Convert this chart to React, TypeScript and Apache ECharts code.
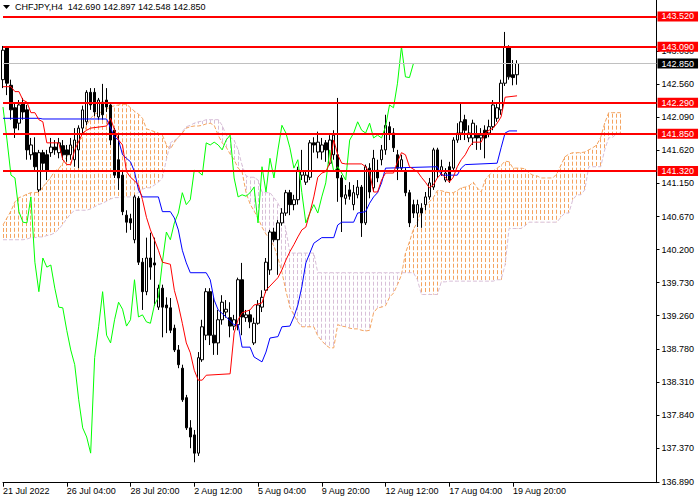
import React, { useEffect, useRef } from 'react';
import * as echarts from 'echarts';

const symbolTitle = 'CHFJPY,H4';
const headerValues = ['142.690', '142.897', '142.548', '142.850'];

// [open, close, low, high] per H4 bar
const ohlc: number[][] = [
  [142.62, 143.04, 142.50, 143.10], [143.07, 142.57, 142.40, 143.10], [142.54, 142.19, 142.05, 142.62],
  [142.22, 141.93, 141.79, 142.29], [142.00, 142.26, 141.90, 142.33], [142.29, 142.16, 142.05, 142.36],
  [142.19, 141.62, 141.48, 142.26], [141.55, 141.69, 141.48, 141.79], [141.58, 141.38, 141.33, 141.80],
  [141.05, 141.58, 141.02, 141.62], [141.58, 141.43, 141.33, 141.62], [141.55, 141.33, 141.19, 141.62],
  [141.58, 141.66, 141.52, 141.79], [141.66, 141.62, 141.55, 141.76], [141.58, 141.72, 141.50, 141.79],
  [141.68, 141.55, 141.48, 141.76], [141.62, 141.55, 141.45, 141.69], [141.55, 141.69, 141.48, 141.79],
  [141.48, 141.76, 141.38, 141.93], [141.62, 141.93, 141.36, 141.97], [141.93, 142.19, 141.86, 142.25],
  [142.02, 142.44, 141.97, 142.47], [142.44, 142.26, 142.19, 142.50], [142.44, 142.16, 142.10, 142.50],
  [142.09, 142.33, 142.05, 142.36], [142.30, 142.12, 142.05, 142.56], [142.33, 142.23, 142.16, 142.50],
  [142.26, 141.76, 141.69, 142.29], [141.90, 141.26, 141.22, 141.93], [141.48, 141.22, 141.05, 141.83],
  [141.26, 140.74, 140.69, 141.31], [140.69, 140.59, 140.44, 140.76], [140.64, 140.58, 140.48, 140.71],
  [140.34, 140.95, 140.29, 140.98], [140.93, 140.02, 139.98, 140.96], [140.02, 139.60, 139.34, 140.08],
  [139.60, 140.08, 139.55, 140.37], [140.08, 139.95, 139.77, 140.44], [140.01, 139.98, 139.40, 140.37],
  [139.38, 139.65, 139.34, 139.70], [139.65, 139.38, 138.95, 139.70], [139.41, 139.37, 139.01, 139.52],
  [139.37, 139.05, 139.01, 139.51], [139.08, 138.77, 138.74, 139.13], [138.77, 138.56, 138.51, 138.84],
  [138.51, 138.06, 138.03, 138.56], [138.09, 137.66, 137.63, 138.13], [137.66, 137.53, 137.37, 137.77],
  [137.56, 137.30, 137.17, 137.63], [137.30, 138.66, 137.26, 138.74], [138.63, 139.10, 138.60, 139.20],
  [138.98, 139.60, 138.91, 139.65], [139.60, 138.98, 138.84, 139.65], [138.98, 138.87, 138.70, 139.52],
  [138.87, 139.20, 138.70, 139.34], [139.20, 139.45, 139.13, 139.55], [139.31, 139.35, 139.23, 139.48],
  [139.23, 139.11, 138.95, 139.45], [139.11, 139.20, 139.05, 139.27], [139.13, 139.77, 139.05, 139.80],
  [139.77, 139.24, 138.98, 140.01], [139.23, 139.27, 139.17, 139.34], [139.27, 139.17, 139.08, 139.34],
  [138.87, 139.15, 138.84, 139.23], [139.15, 139.41, 139.13, 139.48], [139.38, 139.52, 139.31, 139.62],
  [139.62, 140.02, 139.58, 140.08], [139.91, 140.45, 139.84, 140.48], [140.45, 140.34, 140.31, 140.51],
  [140.34, 140.58, 139.84, 140.62], [140.58, 140.72, 140.54, 140.79], [140.72, 141.01, 140.68, 141.05],
  [141.01, 140.84, 140.69, 141.05], [140.84, 140.91, 140.76, 140.98], [140.91, 141.33, 140.84, 141.38],
  [141.26, 141.31, 141.19, 141.62], [141.16, 141.26, 141.12, 141.33], [141.23, 141.72, 141.19, 141.76],
  [141.72, 141.69, 141.58, 141.80], [141.59, 141.73, 141.50, 141.88], [141.59, 141.69, 141.48, 141.79],
  [141.72, 141.62, 141.45, 141.76], [141.43, 141.76, 141.40, 141.83], [141.55, 141.83, 141.48, 141.90],
  [141.55, 141.22, 140.88, 142.36], [141.22, 140.95, 140.45, 141.26], [140.93, 140.98, 140.84, 141.12],
  [141.05, 140.96, 140.91, 141.16], [140.84, 141.01, 140.76, 141.12], [140.98, 141.09, 140.93, 141.19],
  [141.09, 140.58, 140.38, 141.12], [140.58, 141.38, 140.55, 141.41], [141.36, 141.02, 140.93, 141.43],
  [141.08, 141.50, 141.02, 141.62], [141.33, 141.22, 141.16, 141.48], [141.48, 141.62, 141.40, 141.69],
  [141.62, 141.97, 141.55, 142.12], [141.95, 141.86, 141.76, 142.02], [141.86, 141.65, 141.59, 141.93],
  [141.55, 141.36, 141.19, 141.62], [141.36, 141.48, 141.31, 141.55], [141.31, 141.01, 140.96, 141.36],
  [141.01, 140.58, 140.52, 141.05], [140.84, 140.72, 140.65, 140.91], [140.72, 140.84, 140.52, 140.91],
  [140.79, 140.72, 140.51, 140.86], [140.84, 140.95, 140.76, 141.02], [140.95, 141.15, 140.91, 141.22],
  [141.09, 141.62, 141.05, 141.65], [141.62, 141.31, 141.22, 141.65], [141.31, 141.38, 141.25, 141.48],
  [141.19, 141.29, 141.16, 141.36], [141.38, 141.19, 141.15, 141.45], [141.36, 141.76, 141.31, 141.80],
  [141.76, 141.86, 141.72, 142.00], [141.86, 142.02, 141.76, 142.30], [142.05, 141.90, 141.76, 142.12],
  [141.79, 141.86, 141.73, 141.97], [141.79, 142.00, 141.69, 142.05], [141.83, 141.79, 141.62, 141.97],
  [141.79, 141.83, 141.62, 141.93], [141.90, 141.79, 141.50, 141.97], [141.86, 141.95, 141.80, 142.05],
  [141.95, 142.26, 141.90, 142.33], [142.07, 142.22, 142.02, 142.29], [142.19, 142.57, 142.12, 142.62],
  [142.57, 143.09, 142.53, 143.30], [143.09, 142.66, 142.62, 143.11], [142.69, 142.65, 142.54, 142.90],
  [142.690, 142.850, 142.548, 142.897],
];

const totalSlots = 165;
const chikouShift = 26;

const xTickIndex = [0, 16, 32, 48, 64, 80, 96, 112, 128];
const xTickText = ['21 Jul 2022', '26 Jul 04:00', '28 Jul 20:00', '2 Aug 12:00', '5 Aug 04:00', '9 Aug 20:00', '12 Aug 12:00', '17 Aug 04:00', '19 Aug 20:00'];

const priceTicks = [136.89, 137.37, 137.84, 138.31, 138.78, 139.26, 139.73, 140.2, 140.67, 141.15, 141.62, 142.09, 142.56, 143.03];

const redLevels = [143.52, 143.09, 142.29, 141.85, 141.32];
const lastPrice = 142.85;

// Tenkan-sen vertices [bar, price]
const tenkan: number[][] = [
  [0, 142.52], [2, 142.52], [3, 142.45], [4, 142.45], [5, 142.33], [6, 142.30], [7, 142.15], [8, 142.15],
  [9, 142.05], [10, 142.02], [11, 141.72], [14, 141.72], [15, 141.48], [16, 141.41], [17, 141.41], [18, 141.62],
  [20, 141.86], [21, 141.90], [22, 141.93], [26, 141.96], [27, 142.07], [28, 141.90], [29, 141.76], [30, 141.69],
  [31, 141.31], [32, 141.23], [33, 141.18], [34, 141.12], [35, 140.91], [36, 140.66], [37, 140.48], [38, 140.34],
  [39, 140.19], [40, 140.02], [42, 139.99], [43, 139.62], [44, 139.41], [45, 139.15], [46, 138.87], [47, 138.73],
  [48, 138.48], [49, 138.34], [50, 138.34], [51, 138.41], [57, 138.43], [58, 139.01], [59, 139.20], [60, 139.30],
  [62, 139.34], [63, 139.41], [65, 139.44], [66, 139.62], [69, 139.80], [70, 139.91], [71, 140.05], [72, 140.17],
  [73, 140.27], [74, 140.38], [75, 140.48], [76, 140.52], [77, 140.72], [78, 140.95], [79, 141.23], [80, 141.29],
  [81, 141.31], [82, 141.43], [83, 141.76], [84, 141.55], [85, 141.43], [86, 141.42], [90, 141.42], [91, 141.38],
  [92, 141.29], [93, 141.02], [94, 141.02], [95, 141.19], [96, 141.29], [98, 141.29], [99, 141.45], [100, 141.58],
  [101, 141.55], [102, 141.38], [104, 141.31], [105, 141.23], [106, 141.16], [107, 141.08], [108, 141.12], [109, 141.22],
  [110, 141.28], [111, 141.23], [112, 141.16], [113, 141.23], [114, 141.38], [115, 141.48], [116, 141.55], [117, 141.66],
  [118, 141.73], [120, 141.73], [121, 141.86], [122, 141.90], [123, 141.93], [124, 142.00], [125, 142.09], [126, 142.37],
  [129, 142.39],
];

// Kijun-sen vertices [bar, price]
const kijun: number[][] = [
  [0, 142.07], [9, 142.07], [10, 142.06], [26, 142.06], [27, 141.93], [28, 141.80], [29, 141.76], [30, 141.55],
  [31, 141.50], [32, 141.45], [33, 141.31], [34, 141.05], [35, 140.95], [39, 140.95], [40, 140.74], [42, 140.74],
  [43, 140.65], [44, 140.48], [45, 140.19], [46, 140.01], [47, 139.87], [51, 139.87], [52, 139.77], [53, 139.48],
  [54, 139.34], [56, 139.24], [58, 139.13], [59, 139.13], [60, 138.81], [62, 138.81], [63, 138.67], [65, 138.60],
  [66, 138.74], [67, 138.94], [69, 138.96], [70, 139.10], [72, 139.11], [73, 139.24], [74, 139.41], [75, 139.67],
  [76, 140.01], [77, 140.15], [78, 140.29], [80, 140.37], [83, 140.37], [84, 140.55], [85, 140.59], [88, 140.59],
  [89, 140.72], [91, 140.74], [92, 140.86], [93, 140.95], [94, 141.01], [95, 141.15], [96, 141.36], [109, 141.38],
  [110, 141.26], [114, 141.26], [115, 141.36], [116, 141.41], [124, 141.43], [125, 141.65], [126, 141.86], [127, 141.89],
  [129, 141.89],
];

// Senkou span A and B, one value per bar from bar 0 (cloud projected 26 bars ahead)
const senkouA: number[] = [
  140.55, 140.65, 140.75, 140.88, 140.94, 140.96, 140.99, 141.01, 141.01, 141.02,
  141.09, 141.16, 141.23, 141.32, 141.35, 141.43, 141.52, 141.62, 141.70, 141.75,
  141.80, 141.97, 142.07, 142.13, 142.15, 142.16, 142.20, 142.23, 142.25, 142.26,
  142.27, 142.27, 142.22, 142.17, 142.13, 142.07, 141.92, 141.90, 141.88, 141.86,
  141.83, 141.69, 141.63, 141.73, 141.80, 141.86, 141.93, 141.95, 141.96, 141.96,
  141.97, 141.99, 142.00, 141.97, 141.83, 141.72, 141.66, 141.56, 141.48, 141.36,
  141.31, 141.01, 140.85, 140.75, 140.65, 140.52, 140.42, 140.34, 140.25, 140.08,
  139.88, 139.61, 139.38, 139.27, 139.17, 139.10, 139.10, 139.10, 139.10, 138.97,
  138.90, 138.84, 138.80, 138.80, 139.13, 139.11, 139.10, 139.08, 139.07, 139.07,
  139.05, 139.04, 139.05, 139.30, 139.37, 139.38, 139.40, 139.52, 139.58, 139.70,
  139.84, 140.15, 140.31, 140.49, 140.59, 140.76, 140.82, 140.88, 140.94, 141.04,
  141.04, 141.02, 141.01, 141.01, 141.04, 141.08, 141.09, 141.11, 141.16, 141.08,
  141.02, 141.19, 141.26, 141.32, 141.36, 141.40, 141.46, 141.45, 141.36, 141.36,
  141.36, 141.35, 141.29, 141.26, 141.25, 141.22, 141.22, 141.22, 141.22, 141.28,
  141.40, 141.52, 141.56, 141.58, 141.58, 141.58, 141.59, 141.62, 141.65, 141.69,
  141.80, 142.00, 142.15, 142.15, 142.15, 142.15,
];
const senkouB: number[] = [
  140.34, 140.34, 140.34, 140.34, 140.34, 140.34, 140.35, 140.37, 140.37, 140.38,
  140.38, 140.40, 140.41, 140.44, 140.49, 140.56, 140.64, 140.71, 140.76, 140.76,
  140.76, 140.76, 140.78, 140.81, 140.84, 140.86, 140.89, 140.92, 140.94, 140.94,
  140.95, 140.95, 140.95, 140.95, 141.02, 141.06, 141.08, 141.08, 141.12, 141.16,
  141.22, 141.48, 141.72, 141.76, 141.79, 141.88, 141.95, 141.97, 142.00, 142.02,
  142.03, 142.05, 142.05, 142.05, 142.05, 141.97, 141.83, 141.80, 141.76, 141.62,
  141.40, 141.25, 141.23, 141.23, 141.19, 141.02, 141.01, 141.01, 140.94, 140.86,
  140.74, 140.48, 140.15, 140.15, 140.15, 140.15, 140.15, 140.15, 140.15, 139.87,
  139.87, 139.87, 139.87, 139.87, 139.87, 139.87, 139.87, 139.87, 139.87, 139.87,
  139.87, 139.87, 139.87, 139.87, 139.87, 139.87, 139.87, 139.87, 139.87, 139.87,
  139.87, 139.87, 139.87, 139.87, 139.77, 139.56, 139.56, 139.56, 139.56, 139.56,
  139.74, 139.74, 139.75, 139.75, 139.75, 139.75, 139.75, 139.75, 139.75, 139.75,
  139.75, 139.75, 139.75, 139.75, 139.77, 139.77, 139.98, 140.50, 140.50, 140.50,
  140.50, 140.54, 140.59, 140.59, 140.59, 140.59, 140.59, 140.59, 140.59, 140.59,
  140.66, 140.72, 140.72, 140.91, 140.98, 140.98, 141.05, 141.38, 141.38, 141.38,
  141.38, 141.62, 141.79, 141.80, 141.85, 141.86,
];

const FONT = 'Liberation Sans, Arial, sans-serif';

export default function App() {
  const ref = useRef<HTMLDivElement>(null);

  useEffect(() => {
    if (!ref.current) return;
    const chart = echarts.init(ref.current, undefined, { renderer: 'svg' });

    const categories = Array.from({ length: totalSlots }, (_, i) => String(i));
    const closes = ohlc.map((c) => c[1]);
    const chikou = closes.slice(chikouShift).map((c, i) => [i, c]);
    const cloud = senkouA.map((a, i) => [i, a, senkouB[i]]);

    const tickShown = (index: number) => xTickIndex.indexOf(index) >= 0;

    const redLabel = {
      show: true,
      position: 'end',
      distance: 1,
      formatter: (p: any) => Number(p.value).toFixed(3),
      color: '#ffffff',
      backgroundColor: '#FF0000',
      padding: [1, 4, 0, 4],
      fontSize: 9,
      lineHeight: 9,
      fontFamily: FONT,
    };

    const option: any = {
      animation: false,
      backgroundColor: '#ffffff',
      grid: { left: 0.5, top: 0, width: 656, height: 482.7, containLabel: false },
      xAxis: {
        type: 'category',
        data: categories,
        boundaryGap: false,
        axisLine: { show: true, lineStyle: { color: '#000000', width: 1 } },
        axisTick: { show: true, length: 4, interval: tickShown, lineStyle: { color: '#000000' } },
        axisLabel: {
          show: true,
          interval: tickShown,
          formatter: (_v: string, index: number) => xTickText[xTickIndex.indexOf(index)] ?? '',
          align: 'left',
          margin: 4,
          fontSize: 9,
          fontFamily: FONT,
          color: '#000000',
        },
        splitLine: { show: false },
      },
      yAxis: {
        type: 'value',
        position: 'right',
        min: 136.879,
        max: 143.755,
        scale: true,
        axisLine: { show: true, lineStyle: { color: '#000000', width: 1 } },
        axisTick: { show: true, length: 3, customValues: priceTicks, lineStyle: { color: '#000000' } },
        axisLabel: {
          show: true,
          customValues: priceTicks,
          formatter: (v: number) => v.toFixed(3),
          margin: 5,
          fontSize: 9,
          fontFamily: FONT,
          color: '#000000',
        },
        splitLine: { show: false },
      },
      graphic: [
        { type: 'polygon', shape: { points: [[3, 5], [10, 5], [6.5, 9]] }, style: { fill: '#000000' }, z: 100 },
        {
          type: 'text',
          x: 15,
          y: 7,
          style: {
            text: symbolTitle + '  ' + headerValues.join(' '),
            fill: '#000000',
            font: '9px ' + FONT,
            verticalAlign: 'middle',
          },
          z: 100,
        },
      ],
      series: [
        {
          type: 'custom',
          name: 'cloud',
          silent: true,
          clip: true,
          z: 1,
          encode: { x: 0, y: [1, 2] },
          data: cloud,
          renderItem: (_params: any, api: any) => {
            const i = api.value(0);
            const a = api.value(1);
            const b = api.value(2);
            const p1 = api.coord([i, a]);
            const p2 = api.coord([i, b]);
            const yTop = Math.min(p1[1], p2[1]);
            const yBot = Math.max(p1[1], p2[1]);
            const x = Math.round(p1[0] - 0.5) + 0.5;
            return {
              type: 'line',
              shape: { x1: x, y1: yTop, x2: x, y2: yBot },
              style: {
                stroke: a >= b ? '#F4A460' : '#D8BFD8',
                lineWidth: 1,
                lineDash: [4, 2],
                lineDashOffset: ((yTop % 6) + 6) % 6,
              },
            };
          },
        },
        {
          type: 'line',
          name: 'Senkou A',
          data: senkouA.map((v, i) => [i, v]),
          symbol: 'none',
          silent: true,
          z: 1,
          lineStyle: { color: '#F4A460', width: 1, type: [4, 2] },
        },
        {
          type: 'line',
          name: 'Senkou B',
          data: senkouB.map((v, i) => [i, v]),
          symbol: 'none',
          silent: true,
          z: 1,
          lineStyle: { color: '#D8BFD8', width: 1, type: [4, 2] },
        },
        {
          type: 'candlestick',
          name: 'CHFJPY',
          data: ohlc,
          barWidth: 3,
          silent: true,
          z: 2,
          itemStyle: {
            color: '#ffffff',
            color0: '#000000',
            borderColor: '#000000',
            borderColor0: '#000000',
            borderWidth: 1,
          },
        },
        {
          type: 'line',
          name: 'Chikou',
          data: chikou,
          symbol: 'none',
          silent: true,
          z: 3,
          lineStyle: { color: '#00FF00', width: 1 },
        },
        {
          type: 'line',
          name: 'Kijun',
          data: kijun,
          symbol: 'none',
          silent: true,
          z: 3,
          lineStyle: { color: '#0000FF', width: 1 },
        },
        {
          type: 'line',
          name: 'Tenkan',
          data: tenkan,
          symbol: 'none',
          silent: true,
          z: 3,
          lineStyle: { color: '#FF0000', width: 1 },
        },
        {
          type: 'line',
          name: 'levels',
          data: [],
          z: 10,
          silent: true,
          markLine: {
            symbol: ['none', 'none'],
            silent: true,
            animation: false,
            data: [
              {
                yAxis: lastPrice,
                lineStyle: { color: '#C0C0C0', width: 1, type: 'solid' },
                label: { ...redLabel, backgroundColor: '#000000' },
              },
              ...redLevels.map((v) => ({
                yAxis: v,
                lineStyle: { color: '#FF0000', width: 2, type: 'solid' },
                label: redLabel,
              })),
            ],
          },
        },
      ],
    };

    chart.setOption(option);
    return () => chart.dispose();
  }, []);

  return (
    <div
      ref={ref}
      style={{ position: 'fixed', left: 0, top: 0, width: 700, height: 500, background: '#ffffff' }}
    />
  );
}
